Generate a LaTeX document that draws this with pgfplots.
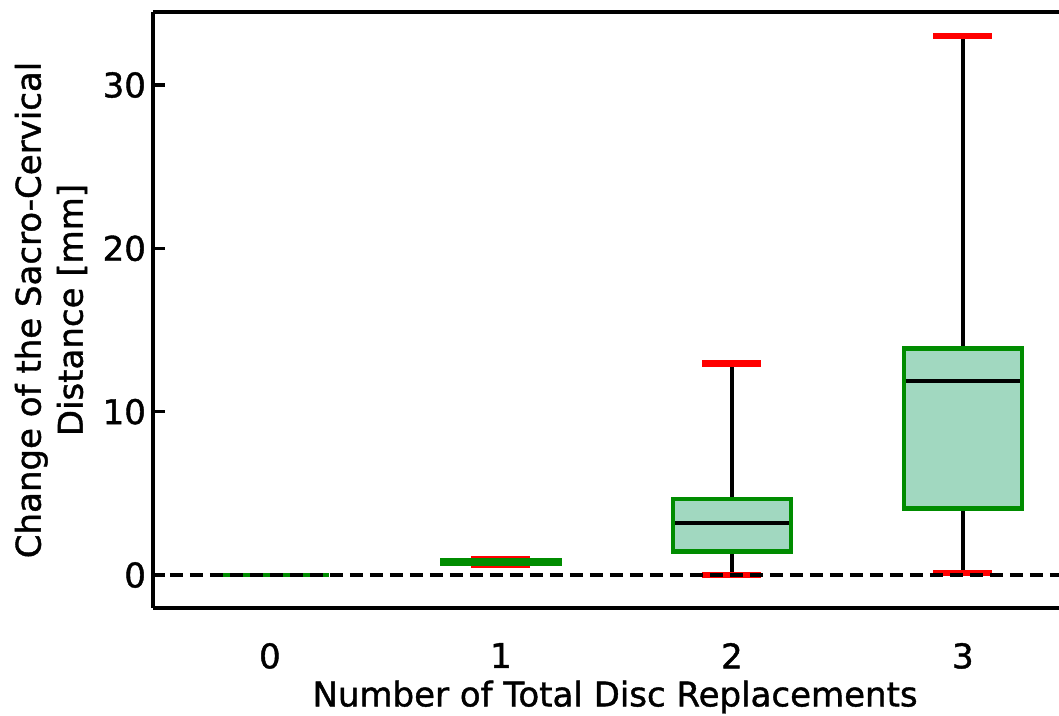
\documentclass[border=0pt]{standalone}
\usepackage{pgfplots}
\pgfplotsset{compat=1.18}
\usepgfplotslibrary{statistics}
\usepackage{fontspec}
\setmainfont{DejaVu Sans}[FakeBold=1.2]
\definecolor{boxfill}{RGB}{161,216,192}
\definecolor{boxedge}{RGB}{0,140,0}
\pgfplotsset{
  capstyle/.style={draw=red},
  mybox/.style={
    boxplot/draw direction=y,
    boxplot/draw/lower whisker/.code={%
      \draw[black, line width=1.6pt] (boxplot box cs:\pgfplotsboxplotvalue{lower whisker},0.5) -- (boxplot box cs:\pgfplotsboxplotvalue{upper whisker},0.5);
      \draw[/pgfplots/capstyle, line width=3pt] (boxplot whisker cs:\pgfplotsboxplotvalue{lower whisker},0) -- (boxplot whisker cs:\pgfplotsboxplotvalue{lower whisker},1);
      \draw[/pgfplots/capstyle, line width=3pt] (boxplot whisker cs:\pgfplotsboxplotvalue{upper whisker},0) -- (boxplot whisker cs:\pgfplotsboxplotvalue{upper whisker},1);
      \fill[boxfill] (boxplot box cs:\pgfplotsboxplotvalue{lower quartile},0) rectangle (boxplot box cs:\pgfplotsboxplotvalue{upper quartile},1);
      \draw[black, line width=2pt] (boxplot box cs:\pgfplotsboxplotvalue{median},0) -- (boxplot box cs:\pgfplotsboxplotvalue{median},1);
      \draw[boxedge, line width=2.2pt] (boxplot box cs:\pgfplotsboxplotvalue{lower quartile},0) rectangle (boxplot box cs:\pgfplotsboxplotvalue{upper quartile},1);
    },
    boxplot/draw/upper whisker/.code={},
    boxplot/draw/box/.code={},
    boxplot/draw/median/.code={},
    boxplot/box extend=0.51,
    boxplot/whisker extend=0.255,
  },
}
\begin{document}
\begin{tikzpicture}
\begin{axis}[
  name=ax,
  scale only axis,
  width=453pt, height=298pt,
  xmin=-0.506, xmax=3.416,
  ymin=-2.02, ymax=34.47,
  axis x line*=box, axis y line*=left,
  axis line style={-, line width=1.8pt, black},
  xtick={0,1,2,3},
  xticklabels={0,1,2,3},
  xtick style={draw=none},
  ytick={0,10,20,30},
  ytick style={line width=1.6pt, black},
  tick align=inside,
  major tick length=6pt,
  /pgf/number format/assume math mode=true,
  tick label style={font=\fontsize{17}{21}\selectfont},
  xticklabel style={yshift=-14pt},
  label style={font=\fontsize{17}{21}\selectfont},
  xlabel={Number of Total Disc Replacements},
  xlabel style={at={(axis description cs:0.51,-0.1493)}, anchor=center},
  ylabel={Change of the Sacro-Cervical\\Distance [mm]},
  ylabel style={at={(axis description cs:-0.1126,0.5)}, anchor=center, align=center},
]
\addplot[mybox, capstyle/.style={draw=none}, boxplot prepared={draw position=0, lower whisker=0, lower quartile=0, median=0, upper quartile=0, upper whisker=0}] coordinates {};
\addplot[mybox, boxplot prepared={draw position=1, lower whisker=0.59, lower quartile=0.69, median=0.79, upper quartile=0.9, upper whisker=0.99}] coordinates {};
\addplot[mybox, boxplot prepared={draw position=2, lower whisker=0.0, lower quartile=1.43, median=3.18, upper quartile=4.65, upper whisker=12.95}] coordinates {};
\addplot[mybox, boxplot prepared={draw position=3, lower whisker=0.14, lower quartile=4.08, median=11.88, upper quartile=13.87, upper whisker=32.98}] coordinates {};
\addplot[black, line width=2.2pt, dash pattern=on 6.5pt off 3.5pt] coordinates {(-0.52,0) (3.5,0)};
\end{axis}
\pgfresetboundingbox
\path ([shift={(-76.5pt,-53.5pt)}]ax.south west) rectangle ([shift={(0pt,6pt)}]ax.north east);
\end{tikzpicture}
\end{document}
